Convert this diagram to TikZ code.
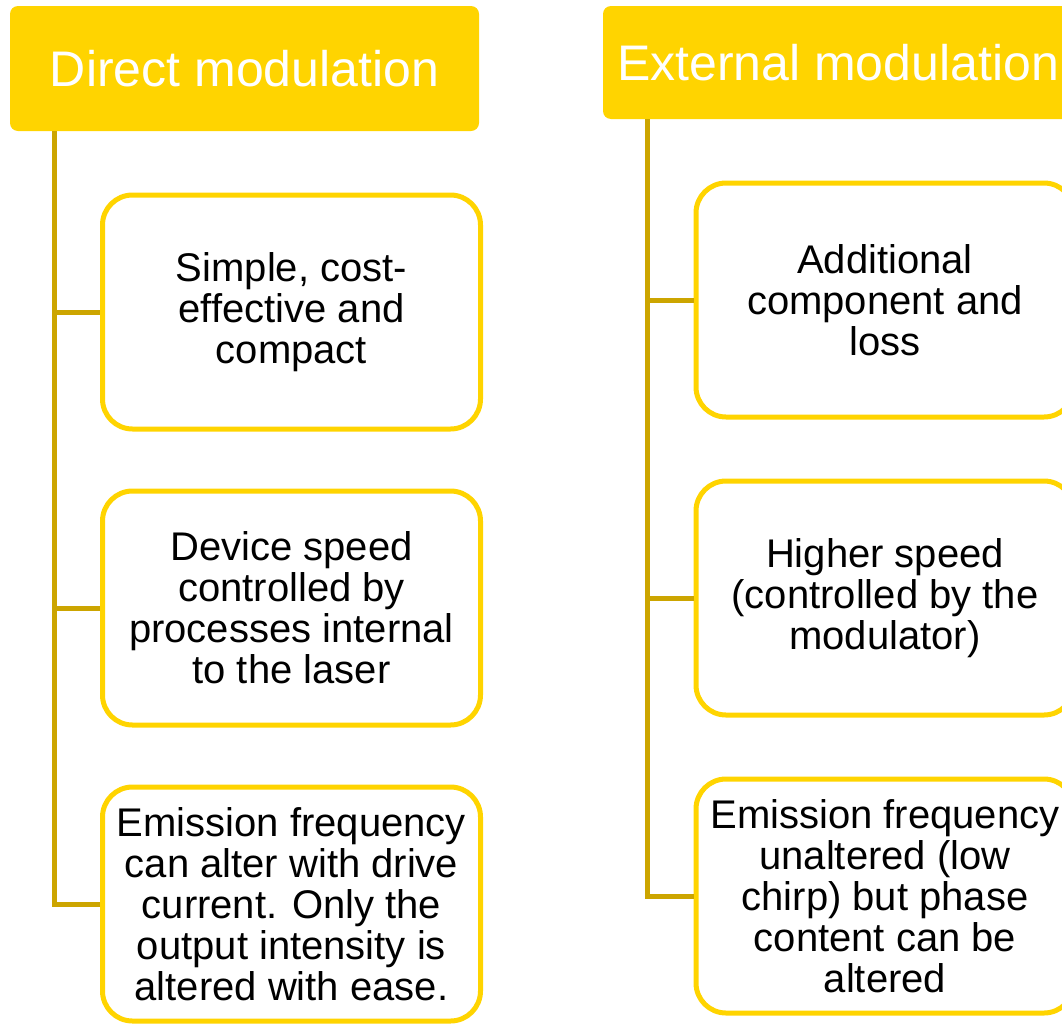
\documentclass[tikz,border=0pt]{standalone}
\usepackage{fontspec}
\setmainfont{Liberation Sans}
\usetikzlibrary{positioning}
\definecolor{gold}{RGB}{255,212,0}
\definecolor{darkgold}{RGB}{204,165,0}

\begin{document}
\begin{tikzpicture}[x=1pt,y=-1pt,
    head/.style={fill=gold,rounded corners=8pt,text=white,inner sep=0pt,
        font=\fontsize{50}{55}\selectfont},
    item/.style={draw=gold,line width=5pt,rounded corners=30pt,fill=white,
        align=center,inner sep=0pt,minimum width=378pt,minimum height=234pt,
        font=\fontsize{40}{41}\selectfont},
    link/.style={draw=darkgold,line width=5pt}]
    \useasboundingbox (0,0) rectangle (1062,1023);
    \clip (0,0) rectangle (1062,1023);

    \node[head,minimum width=469pt,minimum height=125pt] (dhead) at (244.5,68.5) {Direct modulation};
    \node[head,minimum width=470pt,minimum height=113pt] (ehead) at (838,62.5) {External modulation};

    \foreach \t [count=\i] in {{Simple, cost-\\effective and\\compact},
            {Device speed\\controlled by\\processes internal\\to the laser},
            {Emission frequency\\can alter with drive\\current. Only the\\output intensity is\\altered with ease.}} {
        \node[item] (d\i) at (291.5,16+296*\i) {\t};
    }

    \foreach \t [count=\i] in {{Additional\\component and\\loss},
            {Higher speed\\(controlled by the\\modulator)},
            {Emission frequency\\unaltered (low\\chirp) but phase\\content can be\\altered}} {
        \node[item] (e\i) at (885,2+298*\i) {\t};
    }

    % stems and branches
    \coordinate (dstem) at ([xshift=45pt]dhead.south west);
    \coordinate (estem) at ([xshift=45pt]ehead.south west);
    \draw[link] (dstem) |- (d3.west);
    \draw[link] (estem) |- (e3.west);
    \foreach \i in {1,2} {
        \draw[link] (d\i.west -| dstem) -- (d\i.west);
        \draw[link] (e\i.west -| estem) -- (e\i.west);
    }
\end{tikzpicture}
\end{document}
